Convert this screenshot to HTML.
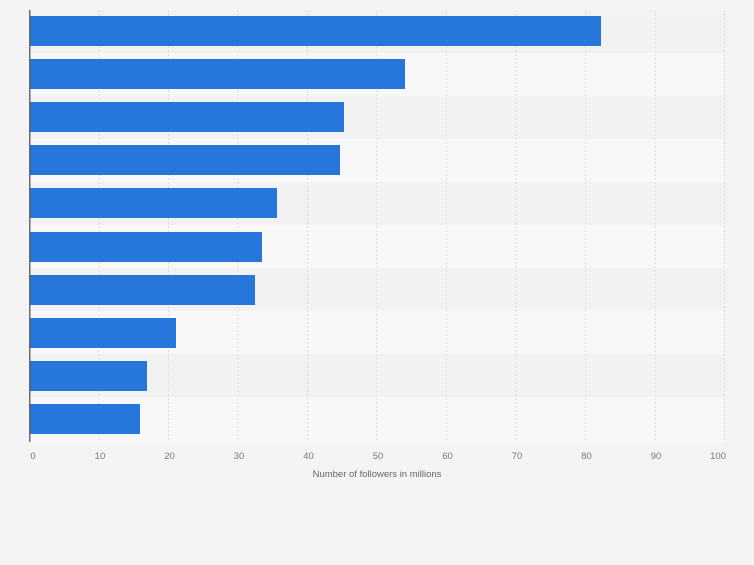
<!DOCTYPE html><html><head><style>body{margin:0;background:#f4f4f4;width:754px;height:560px;overflow:hidden}</style></head><body>
<svg width="754" height="560" xmlns="http://www.w3.org/2000/svg" font-family="Liberation Sans, sans-serif">
<rect width="754" height="560" fill="#f4f4f4"/>
<g>
<rect x="30" y="10" width="695" height="43" fill="#f2f2f2"/>
<rect x="30" y="53" width="695" height="43" fill="#f8f8f8"/>
<rect x="30" y="96" width="695" height="43" fill="#f2f2f2"/>
<rect x="30" y="139" width="695" height="43" fill="#f8f8f8"/>
<rect x="30" y="182" width="695" height="43" fill="#f2f2f2"/>
<rect x="30" y="225" width="695" height="43" fill="#f8f8f8"/>
<rect x="30" y="268" width="695" height="43" fill="#f2f2f2"/>
<rect x="30" y="311" width="695" height="43" fill="#f8f8f8"/>
<rect x="30" y="354" width="695" height="43" fill="#f2f2f2"/>
<rect x="30" y="397" width="695" height="45" fill="#f8f8f8"/>
</g>
<g stroke="#dcdcdc" stroke-dasharray="2,2" stroke-width="1">
<line x1="99" y1="10" x2="99" y2="442"/><line x1="168.5" y1="10" x2="168.5" y2="442"/><line x1="238" y1="10" x2="238" y2="442"/><line x1="307.5" y1="10" x2="307.5" y2="442"/><line x1="377" y1="10" x2="377" y2="442"/><line x1="446.5" y1="10" x2="446.5" y2="442"/><line x1="516" y1="10" x2="516" y2="442"/><line x1="585.5" y1="10" x2="585.5" y2="442"/><line x1="655" y1="10" x2="655" y2="442"/><line x1="724.5" y1="10" x2="724.5" y2="442"/>
</g>
<g fill="#2776dc">
<rect x="30" y="16" width="571" height="30"/>
<rect x="30" y="59" width="375" height="30"/>
<rect x="30" y="102" width="314" height="30"/>
<rect x="30" y="145" width="310" height="30"/>
<rect x="30" y="188" width="247" height="30"/>
<rect x="30" y="232" width="232" height="30"/>
<rect x="30" y="275" width="225" height="30"/>
<rect x="30" y="318" width="146" height="30"/>
<rect x="30" y="361" width="117" height="30"/>
<rect x="30" y="404" width="110" height="30"/>
</g>
<line x1="29.8" y1="10" x2="29.8" y2="442" stroke="#555" stroke-width="1.3"/>
<g fill="#777" font-size="9.5" text-anchor="middle">
<text x="33" y="459">0</text><text x="100" y="459">10</text><text x="169.5" y="459">20</text><text x="239" y="459">30</text><text x="308.5" y="459">40</text><text x="378" y="459">50</text><text x="447.5" y="459">60</text><text x="517" y="459">70</text><text x="586.5" y="459">80</text><text x="656" y="459">90</text><text x="718" y="459">100</text>
</g>
<text x="377" y="477" fill="#666" font-size="9.5" text-anchor="middle">Number of followers in millions</text>
</svg></body></html>
